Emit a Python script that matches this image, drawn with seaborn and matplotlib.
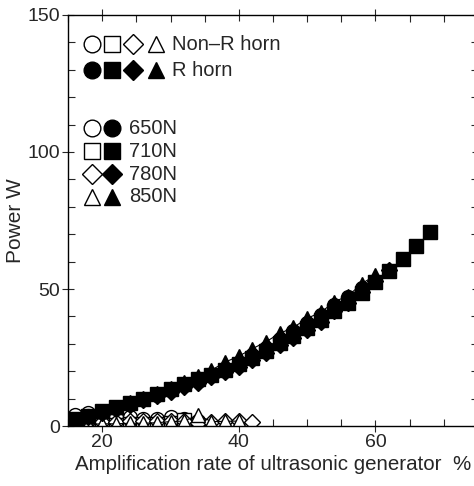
import numpy as np
import pandas as pd
import matplotlib
matplotlib.use("Agg")
import matplotlib.pyplot as plt
import seaborn as sns
from matplotlib.ticker import MultipleLocator

# amplification rate (%) for each series
x_r650 = [16, 18, 20, 22, 24, 26, 28, 30, 32, 34, 36, 38, 40, 42, 44, 46, 48, 50, 52, 54, 56, 58]
x_r710 = [16, 18, 20, 22, 24, 26, 28, 30, 32, 34, 36, 38, 40, 42, 44, 46, 48, 50, 52, 54, 56, 58, 60, 62, 64, 66, 68]
x_r780 = [16, 18, 20, 22, 24, 26, 28, 30, 32, 34, 36, 38, 40, 42, 44, 46, 48, 50, 52, 54, 56, 58, 60, 62]
x_r850 = [16, 18, 20, 22, 24, 26, 28, 30, 32, 34, 36, 38, 40, 42, 44, 46, 48, 50, 52, 54, 56, 58, 60]

# R horn power (W)
p_r650 = [2.2, 3.6, 5.0, 6.6, 8.2, 9.8, 11.4, 13.0, 14.8, 16.6, 18.6, 20.8, 23.0, 25.8, 28.6, 31.6,
          34.8, 37.5, 40.5, 44.0, 47.0, 50.5]
p_r710 = [2.5, 3.8, 5.3, 6.8, 8.4, 10.0, 11.6, 13.4, 15.2, 17.0, 18.6, 20.5, 22.6, 25.0, 27.5, 30.3,
          33.0, 35.8, 38.8, 42.0, 45.0, 48.6, 52.6, 56.6, 60.8, 65.6, 70.8]
p_r780 = [2.0, 3.3, 4.8, 6.3, 7.8, 9.4, 10.8, 12.4, 14.2, 15.8, 17.8, 19.6, 21.6, 24.0, 26.8, 29.5,
          32.0, 35.0, 38.0, 42.0, 45.0, 49.0, 53.0, 57.0]
p_r850 = [2.3, 3.8, 5.4, 7.0, 8.7, 10.4, 12.2, 14.0, 16.0, 18.2, 20.4, 23.3, 25.5, 28.2, 30.8, 33.8,
          36.0, 39.3, 41.5, 45.4, 47.5, 52.0, 55.0]

# Non-R horn
x_n650 = [16, 18, 20, 22, 24, 26, 28, 30, 32, 34]
x_n710 = [16, 18, 20, 22, 24, 26, 28, 30, 32]
x_n780 = [16, 18, 20, 22, 24, 26, 28, 30, 32, 34, 36, 38, 40, 42]
x_n850 = [16, 18, 20, 22, 24, 26, 28, 30, 32, 34, 36, 38, 40]

p_n650 = [4.0, 4.8, 2.8, 3.2, 3.4, 2.6, 2.4, 3.2, 2.4, 2.0]
p_n710 = [0.4, 0.4, 0.5, 0.5, 0.6, 0.7, 0.8, 1.0, 2.2]
p_n780 = [1.5, 1.5, 1.6, 1.6, 1.7, 1.8, 1.8, 1.9, 1.9, 1.0, 1.6, 1.7, 1.8, 1.6]
p_n850 = [0.6, 0.6, 0.8, 0.8, 1.0, 1.0, 1.2, 1.6, 1.8, 4.0, 1.6, 1.7, 1.8]

sns.set_style("ticks")
plt.rcParams['font.family'] = ['Liberation Sans', 'DejaVu Sans']

fig = plt.figure(figsize=(4.74, 4.86), dpi=100)
ax = fig.add_axes([68 / 474, 1 - 426 / 486, 410 / 474, 411 / 486])

series = [
    (x_n650, p_n650, 'o', 'white'), (x_n710, p_n710, 's', 'white'),
    (x_n780, p_n780, 'D', 'white'), (x_n850, p_n850, '^', 'white'),
    (x_r650, p_r650, 'o', 'black'), (x_r710, p_r710, 's', 'black'),
    (x_r780, p_r780, 'D', 'black'), (x_r850, p_r850, '^', 'black'),
]
sizes = {'o': 10, 's': 9.5, 'D': 8, '^': 10}
for xs, ps, mk, fc in series:
    sns.lineplot(x=xs, y=ps, ax=ax, color='black', lw=0.8, marker=mk, markersize=sizes[mk],
                 markerfacecolor=fc, markeredgecolor='black', markeredgewidth=1.0)

ax.set_xlim(15, 75)
ax.set_ylim(0, 150)
ax.xaxis.set_major_locator(MultipleLocator(20))
ax.xaxis.set_minor_locator(MultipleLocator(5))
ax.yaxis.set_major_locator(MultipleLocator(50))
ax.yaxis.set_minor_locator(MultipleLocator(10))
ax.tick_params(which='both', direction='in', top=True, right=True, labelsize=14, width=0.8)
ax.tick_params(which='major', direction='inout', length=9, pad=1)
ax.tick_params(which='minor', length=5)
for s in ax.spines.values():
    s.set_linewidth(1.0)
    s.set_color('black')

ax.set_xlabel("Amplification rate of ultrasonic generator  %", fontsize=14.8, labelpad=3)
ax.set_ylabel("Power W", fontsize=15)
ax.yaxis.set_label_coords(-0.105, 0.5)

# legend: symbol rows and labels placed in axes coordinates
def ay(py):
    return (426 - py) / 411
def axx(px):
    return (px - 68) / 410

leg_marks = [
    ([92, 112, 133, 156], 44, ['o', 's', 'D', '^'], 'white'),
    ([92, 112, 133, 156], 70, ['o', 's', 'D', '^'], 'black'),
]
for xs_px, py, mks, fc in leg_marks:
    for px, mk in zip(xs_px, mks):
        ax.plot(axx(px), ay(py), marker=mk, transform=ax.transAxes, ls='none',
                markersize=sizes[mk] + 2, markerfacecolor=fc, markeredgecolor='black',
                markeredgewidth=1.0, clip_on=False)
rows = [('o', "650N", 128), ('s', "710N", 151), ('D', "780N", 174), ('^', "850N", 197)]
for mk, lab, py in rows:
    for px, fc in [(92, 'white'), (112, 'black')]:
        ax.plot(axx(px), ay(py), marker=mk, transform=ax.transAxes, ls='none',
                markersize=sizes[mk] + 2, markerfacecolor=fc, markeredgecolor='black',
                markeredgewidth=1.0, clip_on=False)
    ax.text(axx(129), ay(py), lab, transform=ax.transAxes, fontsize=14.5, va='center', ha='left')
ax.text(axx(172), ay(44), "Non–R horn", transform=ax.transAxes, fontsize=14.5, va='center', ha='left')
ax.text(axx(172), ay(70), "R horn", transform=ax.transAxes, fontsize=14.5, va='center', ha='left')

fig.savefig("out.png", dpi=100)
